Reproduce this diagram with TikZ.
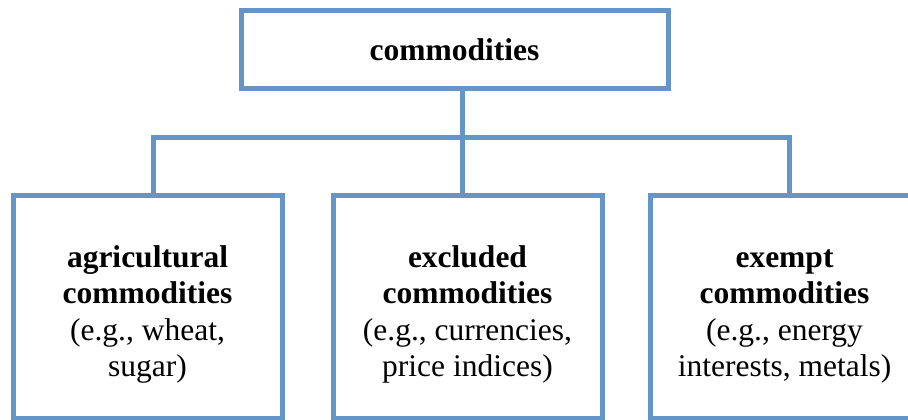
\documentclass[tikz,border=0pt]{standalone}
\usepackage{fontspec}
\setmainfont{Liberation Serif}
\usetikzlibrary{positioning}
\definecolor{boxblue}{RGB}{99,149,200}
\newcommand{\topgap}{\rule{0pt}{38pt}}

\begin{document}
\begin{tikzpicture}[x=1pt,y=-1pt,
    topbox/.style={draw=boxblue,line width=5pt,fill=white,inner sep=0pt,
      minimum width=427pt,minimum height=78pt,align=center,
      font=\fontsize{31.5}{36.5}\selectfont\bfseries},
    catbox/.style={draw=boxblue,line width=5pt,fill=white,inner sep=0pt,
      minimum width=269pt,minimum height=223pt,align=center,
      font=\fontsize{31.5}{36.5}\selectfont},
    link/.style={draw=boxblue,line width=5pt}]
  \useasboundingbox (0,0) rectangle (908,420);
  \node[topbox] (top) at (454.5,50) {commodities};
  \node[catbox] (agri) at (147.5,306.5) {\topgap\textbf{agricultural}\\\textbf{commodities}\\(e.g., wheat,\\sugar)};
  \node[catbox] (excl) at (467.5,306.5) {\topgap\textbf{excluded}\\\textbf{commodities}\\(e.g., currencies,\\price indices)};
  \node[catbox] (exempt) at (784.5,306.5) {\topgap\textbf{exempt}\\\textbf{commodities}\\(e.g., energy\\interests, metals)};
  % connectors
  \coordinate (bus) at (462,137);
  \draw[link] (top.south -| bus) -- (bus);
  \draw[link] ([xshift=5.5pt]agri.north) |- (bus) -| ([xshift=4.5pt]exempt.north);
  \draw[link] (bus) -- (excl.north -| bus);
\end{tikzpicture}
\end{document}
